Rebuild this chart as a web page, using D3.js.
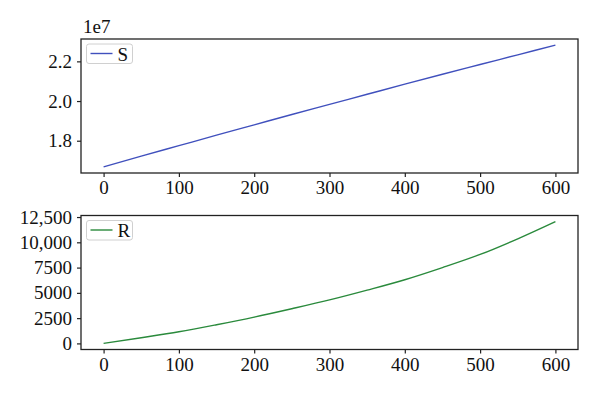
<!DOCTYPE html>
<html>
<head>
<meta charset="utf-8">
<script src="https://cdn.jsdelivr.net/npm/d3@7"></script>
<style>
  body { margin: 0; background: #fff; }
  svg { display: block; font-family: "Liberation Serif", "DejaVu Serif", serif; }
</style>
</head>
<body>
<div id="chart"></div>
<script>
// time steps (x) and the two series
const steps = [0, 50, 100, 150, 200, 250, 300, 350, 400, 450, 500, 550, 600];
const sValues = [1.668e7, 1.722e7, 1.775e7, 1.828e7, 1.880e7, 1.932e7, 1.983e7,
                 2.034e7, 2.085e7, 2.135e7, 2.184e7, 2.233e7, 2.282e7];
const rValues = [0, 560, 1150, 1850, 2600, 3430, 4300, 5270, 6300, 7500, 8800, 10350, 12050];

// tick labels
const xTicks = [0, 100, 200, 300, 400, 500, 600];
const sTicks = [1.8e7, 2.0e7, 2.2e7];
const sTickLabels = ["1.8", "2.0", "2.2"];
const rTicks = [0, 2500, 5000, 7500, 10000, 12500];
const rTickLabels = ["0", "2500", "5000", "7500", "10,000", "12,500"];

const W = 600, H = 393;
const svg = d3.select("#chart").append("svg")
    .attr("width", W).attr("height", H);

const left = 81, right = 578;
const fontSize = "19px";

// matplotlib style 5% margins
function padded(lo, hi) {
    const m = (hi - lo) * 0.05;
    return [lo - m, hi + m];
}

const x = d3.scaleLinear()
    .domain(padded(d3.min(steps), d3.max(steps)))
    .range([left, right]);

function panel(top, bottom, values, ticks, labels, color, name) {
    const y = d3.scaleLinear()
        .domain(padded(d3.min(values), d3.max(values)))
        .range([bottom, top]);

    const g = svg.append("g");

    // linie
    const line = d3.line()
        .x((d, i) => x(steps[i]))
        .y(d => y(d))
        .curve(d3.curveMonotoneX);

    g.append("path")
        .datum(values)
        .attr("d", line)
        .attr("fill", "none")
        .attr("stroke", color)
        .attr("stroke-width", 1.4);

    // okvir
    g.append("rect")
        .attr("x", left).attr("y", top)
        .attr("width", right - left).attr("height", bottom - top)
        .attr("fill", "none")
        .attr("stroke", "#222")
        .attr("stroke-width", 1.3);

    // x os
    const xa = g.append("g")
        .attr("transform", `translate(0,${bottom})`)
        .call(d3.axisBottom(x).tickValues(xTicks).tickSize(4).tickPadding(4));
    // y os
    const ya = g.append("g")
        .attr("transform", `translate(${left},0)`)
        .call(d3.axisLeft(y).tickValues(ticks).tickSize(4).tickPadding(5)
            .tickFormat((d, i) => labels[i]));

    [xa, ya].forEach(a => {
        a.select(".domain").remove();
        a.selectAll(".tick line").attr("stroke", "#222").attr("stroke-width", 1.2);
        a.selectAll(".tick text")
            .attr("fill", "#111")
            .attr("font-size", fontSize)
            .attr("font-family", "Liberation Serif, serif");
    });

    // legenda
    const lg = g.append("g").attr("transform", `translate(${left + 5.5},${top + 5})`);
    lg.append("rect")
        .attr("width", 46).attr("height", 19.5)
        .attr("rx", 2.5)
        .attr("fill", "#fff")
        .attr("stroke", "#d0d0d0")
        .attr("stroke-width", 1);
    lg.append("line")
        .attr("x1", 4).attr("x2", 26)
        .attr("y1", 9.5).attr("y2", 9.5)
        .attr("stroke", color)
        .attr("stroke-width", 1.4);
    lg.append("text")
        .attr("x", 31).attr("y", 16.5)
        .attr("font-size", fontSize)
        .attr("fill", "#111")
        .text(name);

    return y;
}

panel(39, 173, sValues, sTicks, sTickLabels, "#4050bd", "S");
panel(215.5, 349.5, rValues, rTicks, rTickLabels, "#2a8a3c", "R");

// eksponent nad zgornjim grafom
svg.append("text")
    .attr("x", left + 2).attr("y", 33)
    .attr("font-size", fontSize)
    .attr("fill", "#111")
    .text("1e7");
</script>
</body>
</html>
